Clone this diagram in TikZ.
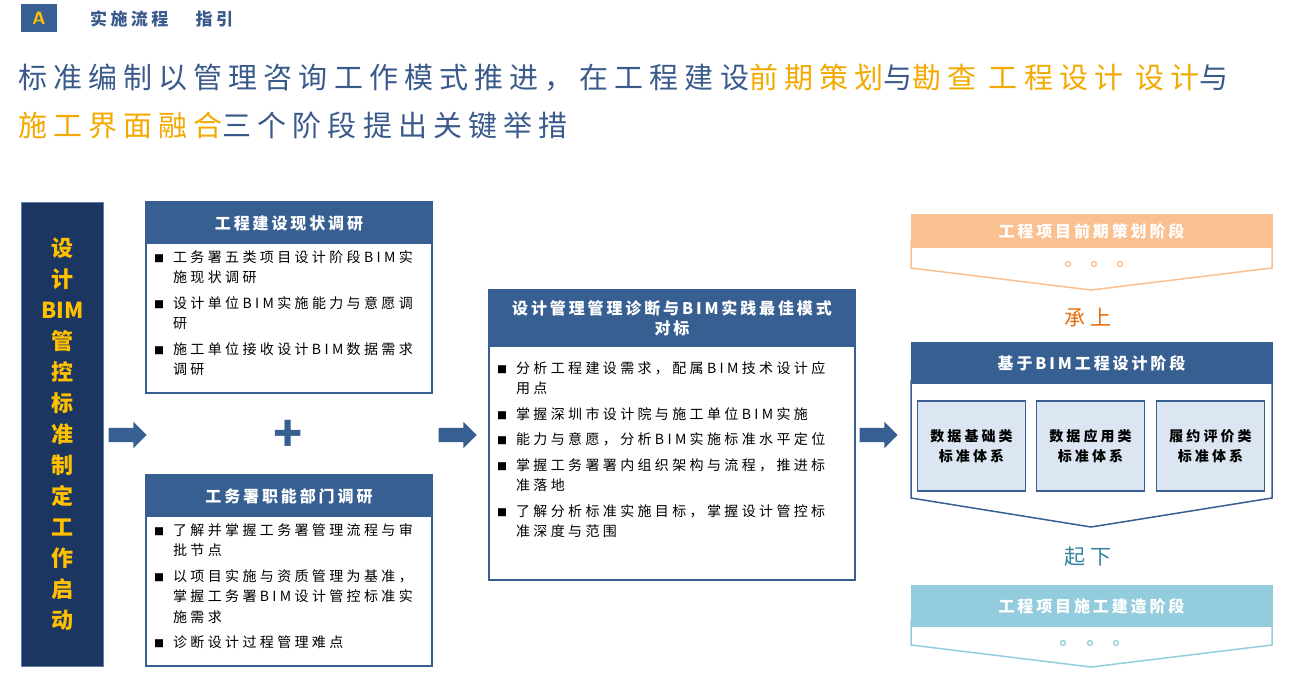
\documentclass[tikz,border=0pt]{standalone}
\usepackage{fontspec}
\setmainfont{Noto Sans CJK SC}
\usepackage{tikz}
\usetikzlibrary{shapes.arrows}

\definecolor{hdblue}{HTML}{375F92}
\definecolor{navy}{HTML}{1B3660}
\definecolor{ttlblue}{HTML}{3A5A8C}
\definecolor{gold}{HTML}{F2A900}
\definecolor{amber}{HTML}{FFC000}
\definecolor{peach}{HTML}{FAC090}
\definecolor{rust}{HTML}{E46C0A}
\definecolor{skyb}{HTML}{93CDDD}
\definecolor{teal}{HTML}{31849B}
\definecolor{pale}{HTML}{DCE6F2}

\newcommand{\spc}[1]{\addfontfeature{LetterSpace=#1}}
\newcommand{\blt}[1]{\hangindent=1.35em\hangafter=1\noindent\makebox[1.35em][l]{\fontsize{10}{10}\selectfont■}#1\par\vspace{5pt}}
\newcommand{\go}[1]{\textcolor{gold}{#1}}

\tikzset{
  header/.style={fill=hdblue, text=white, font=\bfseries\fontsize{16}{20}\selectfont\spc{18}, align=center, inner sep=0pt},
  bodytext/.style={anchor=north west, align=left, text width=#1, font=\fontsize{14}{20.5}\selectfont\spc{24}, inner sep=0pt},
  blockarrow/.style={single arrow, fill=hdblue, minimum height=38pt, inner xsep=0pt, inner ysep=7pt, single arrow head extend=6pt},
  subbox/.style={fill=pale, draw=hdblue, line width=1.2pt, minimum width=108pt, minimum height=90pt, align=center, font=\bfseries\fontsize{14}{20}\selectfont\spc{22}},
  dots/.style={circle, draw=#1, line width=1.3pt, minimum size=5pt, inner sep=0pt}
}

\begin{document}
\begin{tikzpicture}[x=1pt, y=-1pt]
    \useasboundingbox (0,0) rectangle (1308,685);

    % tag line
    \node[fill=hdblue, text=amber, font=\bfseries\sffamily\fontsize{18}{18}\selectfont, minimum width=36pt, minimum height=28pt, inner sep=0pt] (TAG) at (39,18) {A};
    \node[anchor=west, text=ttlblue, font=\bfseries\fontsize{17}{17}\selectfont\spc{20}, inner sep=0pt] (TAGTEXT) at (90,19) {实施流程\hspace{1.6em}指引};

    % title
    \node[anchor=west, text=ttlblue, font=\fontsize{29}{29}\selectfont\spc{21}, inner sep=0pt] (TITLE1) at (18,78) {标准编制以管理咨询工作模式推进，在工程建设\go{前期策划}与\go{勘查\ 工程设计\ 设计}与};
    \node[anchor=west, text=ttlblue, font=\fontsize{29}{29}\selectfont\spc{21}, inner sep=0pt] (TITLE2) at (18,125) {\go{施工界面融合}三个阶段提出关键举措};

    % left column
    \node[fill=navy, draw=hdblue!80!white, line width=1.5pt, minimum width=82pt, minimum height=464pt, inner sep=0pt] (START) at (62.5,434.5) {};
    \node[text=amber, font=\bfseries\fontsize{22}{31}\selectfont, align=center] (STARTTXT) at (START.center) {设\\计\\BIM\\管\\控\\标\\准\\制\\定\\工\\作\\启\\动};

    % first box
    \draw[hdblue, line width=1.2pt] (146,202) rectangle (432,393);
    \node[header, minimum width=286pt, minimum height=42pt] (H1) at (289,223) {工程建设现状调研};
    \node[bodytext=272pt] (B1) at (154,250) {%
      \blt{工务署五类项目设计阶段BIM实\newline 施现状调研}
      \blt{设计单位BIM实施能力与意愿调\newline 研}
      \blt{施工单位接收设计BIM数据需求\newline 调研}};

    \node[text=hdblue, font=\bfseries\fontsize{48}{48}\selectfont, inner sep=0pt] (PLUS) at (288,436) {+};

    % second box
    \draw[hdblue, line width=1.2pt] (146,475) rectangle (432,666);
    \node[header, minimum width=286pt, minimum height=42pt] (H2) at (289,496) {工务署职能部门调研};
    \node[bodytext=272pt] (B2) at (154,523) {%
      \blt{了解并掌握工务署管理流程与审\newline 批节点}
      \blt{以项目实施与资质管理为基准，\newline 掌握工务署BIM设计管控标准实\newline 施需求}
      \blt{诊断设计过程管理难点}};

    % third box
    \draw[hdblue, line width=1.2pt] (489,290) rectangle (855,580);
    \node[header, minimum width=366pt, minimum height=57pt] (H3) at (672,318.5) {设计管理管理诊断与BIM实践最佳模式\\对标};
    \node[bodytext=350pt] (B3) at (497,361) {%
      \blt{分析工程建设需求，配属BIM技术设计应\newline 用点}
      \blt{掌握深圳市设计院与施工单位BIM实施}
      \blt{能力与意愿，分析BIM实施标准水平定位}
      \blt{掌握工务署署内组织架构与流程，推进标\newline 准落地}
      \blt{了解分析标准实施目标，掌握设计管控标\newline 准深度与范围}};

    % arrows
    \node[blockarrow] (AR1) at (124,435) {};
    \node[blockarrow] (AR2) at (454,435) {};
    \node[blockarrow] (AR3) at (875,435) {};

    % right column: planning stage
    \draw[peach, line width=1.5pt, fill=white] (911,240) -- (911,268) -- (1091,290) -- (1272,268) -- (1272,240);
    \node[fill=peach, text=white, font=\bfseries\fontsize{16}{16}\selectfont\spc{18}, minimum width=362pt, minimum height=34pt, inner sep=0pt] (PRE) at (1091.5,231) {工程项目前期策划阶段};
    \node[dots=peach] (D1) at (1068,264) {};
    \node[dots=peach] (D2) at (1094,264) {};
    \node[dots=peach] (D3) at (1120,264) {};

    \node[text=rust, font=\fontsize{21}{21}\selectfont\spc{25}] (UP) at (1088,318) {承上};

    % right column: design stage
    \draw[hdblue, line width=1.5pt, fill=white] (911,380) -- (911,498) -- (1091,527) -- (1272,498) -- (1272,380);
    \node[header, minimum width=362pt, minimum height=42pt] (DES) at (1091.5,363) {基于BIM工程设计阶段};
    \node[subbox] (S1) at (971.5,446) {数据基础类\\标准体系};
    \node[subbox] (S2) at (1090.5,446) {数据应用类\\标准体系};
    \node[subbox] (S3) at (1210.5,446) {履约评价类\\标准体系};

    \node[text=teal, font=\fontsize{21}{21}\selectfont\spc{25}] (DOWN) at (1088,557) {起下};

    % right column: construction stage
    \draw[skyb, line width=1.5pt, fill=white] (911,620) -- (911,645) -- (1091,667) -- (1272,645) -- (1272,620);
    \node[fill=skyb, text=white, font=\bfseries\fontsize{16}{16}\selectfont\spc{18}, minimum width=362pt, minimum height=42pt, inner sep=0pt] (CON) at (1091.5,606) {工程项目施工建造阶段};
    \node[dots=skyb] (E1) at (1063,643) {};
    \node[dots=skyb] (E2) at (1090,643) {};
    \node[dots=skyb] (E3) at (1116,643) {};
\end{tikzpicture}
\end{document}
